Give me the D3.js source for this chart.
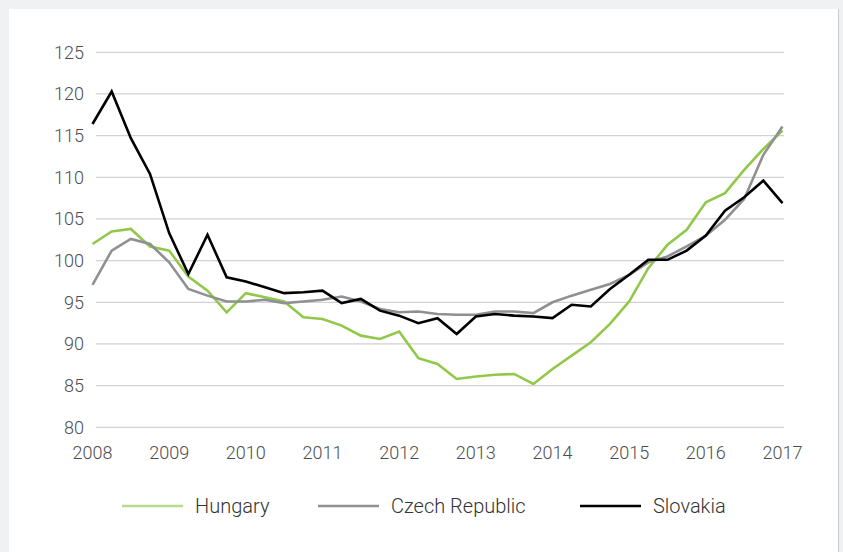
<!DOCTYPE html>
<html><head><meta charset="utf-8">
<script src="https://cdn.jsdelivr.net/npm/d3@7"></script>
<style>
html,body{margin:0;padding:0;background:#f0f1f3;}
svg{display:block;}
</style></head>
<body>
<svg id="chart" width="843" height="552"></svg>
<script>
const startYear = 2008;
const yearTicks = [2008,2009,2010,2011,2012,2013,2014,2015,2016,2017];
const yTicks = [80,85,90,95,100,105,110,115,120,125];
const seriesNames = ["Hungary","Czech Republic","Slovakia"];
const seriesColors = ["#92c84a","#8f9094","#000000"];
const hungary = [102.0,103.5,103.8,101.7,101.2,98.1,96.4,93.8,96.1,95.6,95.1,93.2,93.0,92.2,91.0,90.6,91.5,88.3,87.6,85.8,86.1,86.3,86.4,85.2,87.0,88.6,90.2,92.4,95.1,99.1,101.9,103.7,107.0,108.1,110.9,113.4,115.6];
const czech = [97.1,101.2,102.6,102.0,99.8,96.6,95.8,95.1,95.1,95.3,94.9,95.1,95.3,95.7,95.1,94.2,93.8,93.9,93.6,93.5,93.5,93.9,93.9,93.7,95.0,95.8,96.5,97.2,98.3,99.8,100.5,101.7,103.0,104.9,107.4,112.7,116.1];
const slovakia = [116.4,120.3,114.7,110.4,103.3,98.4,103.1,98.0,97.5,96.8,96.1,96.2,96.4,94.9,95.4,94.0,93.4,92.5,93.1,91.2,93.3,93.6,93.4,93.3,93.1,94.7,94.5,96.6,98.3,100.1,100.1,101.2,103.0,106.0,107.6,109.6,106.9];
const seriesData = [hungary, czech, slovakia];

const svg = d3.select("#chart");
svg.append("rect").attr("x",9).attr("y",9).attr("width",829).attr("height",543).attr("fill","#ffffff");
svg.append("rect").attr("x",838).attr("y",9).attr("width",1).attr("height",543).attr("fill","#c8c8c8");

const x = d3.scaleLinear().domain([2008,2017]).range([92.5,782.5]);
const y = d3.scaleLinear().domain([80,125]).range([427.3,52.3]);
const font = "Roboto, 'Open Sans', sans-serif";

// grid
svg.append("g").selectAll("line").data(yTicks).join("line")
  .attr("x1",96).attr("x2",784)
  .attr("y1",d=>y(d)).attr("y2",d=>y(d))
  .attr("stroke","#d2d2d2").attr("stroke-width",1.3);

// y labels
svg.append("g").selectAll("text").data(yTicks).join("text")
  .attr("x",84).attr("y",d=>y(d)).attr("dy","0.36em")
  .attr("text-anchor","end").attr("font-family",font).attr("font-weight",300)
  .attr("font-size",18).attr("fill","#4d4d4d").text(d=>d);

// x labels
svg.append("g").selectAll("text").data(yearTicks).join("text")
  .attr("x",d=>x(d)).attr("y",453).attr("dy","0.36em")
  .attr("text-anchor","middle").attr("font-family",font).attr("font-weight",300)
  .attr("font-size",18).attr("fill","#4d4d4d").text(d=>d);

const line = d3.line().x((d,i)=>x(startYear+i/4)).y(d=>y(d));
seriesData.forEach((s,k)=>{
  svg.append("path").datum(s).attr("d",line).attr("fill","none")
    .attr("stroke",seriesColors[k]).attr("stroke-width",2.6)
    .attr("stroke-linejoin","miter");
});

// legend
const legX = [122,318,580];
const legY = 506;
seriesNames.forEach((n,k)=>{
  svg.append("line").attr("x1",legX[k]).attr("x2",legX[k]+61)
    .attr("y1",legY).attr("y2",legY)
    .attr("stroke",k===0?"#b7db8c":seriesColors[k]).attr("stroke-width",2.6);
  svg.append("text").attr("x",legX[k]+73).attr("y",legY).attr("dy","0.36em")
    .attr("font-family",font).attr("font-weight",300).attr("font-size",20)
    .attr("fill","#333").text(n);
});
</script>
</body></html>
